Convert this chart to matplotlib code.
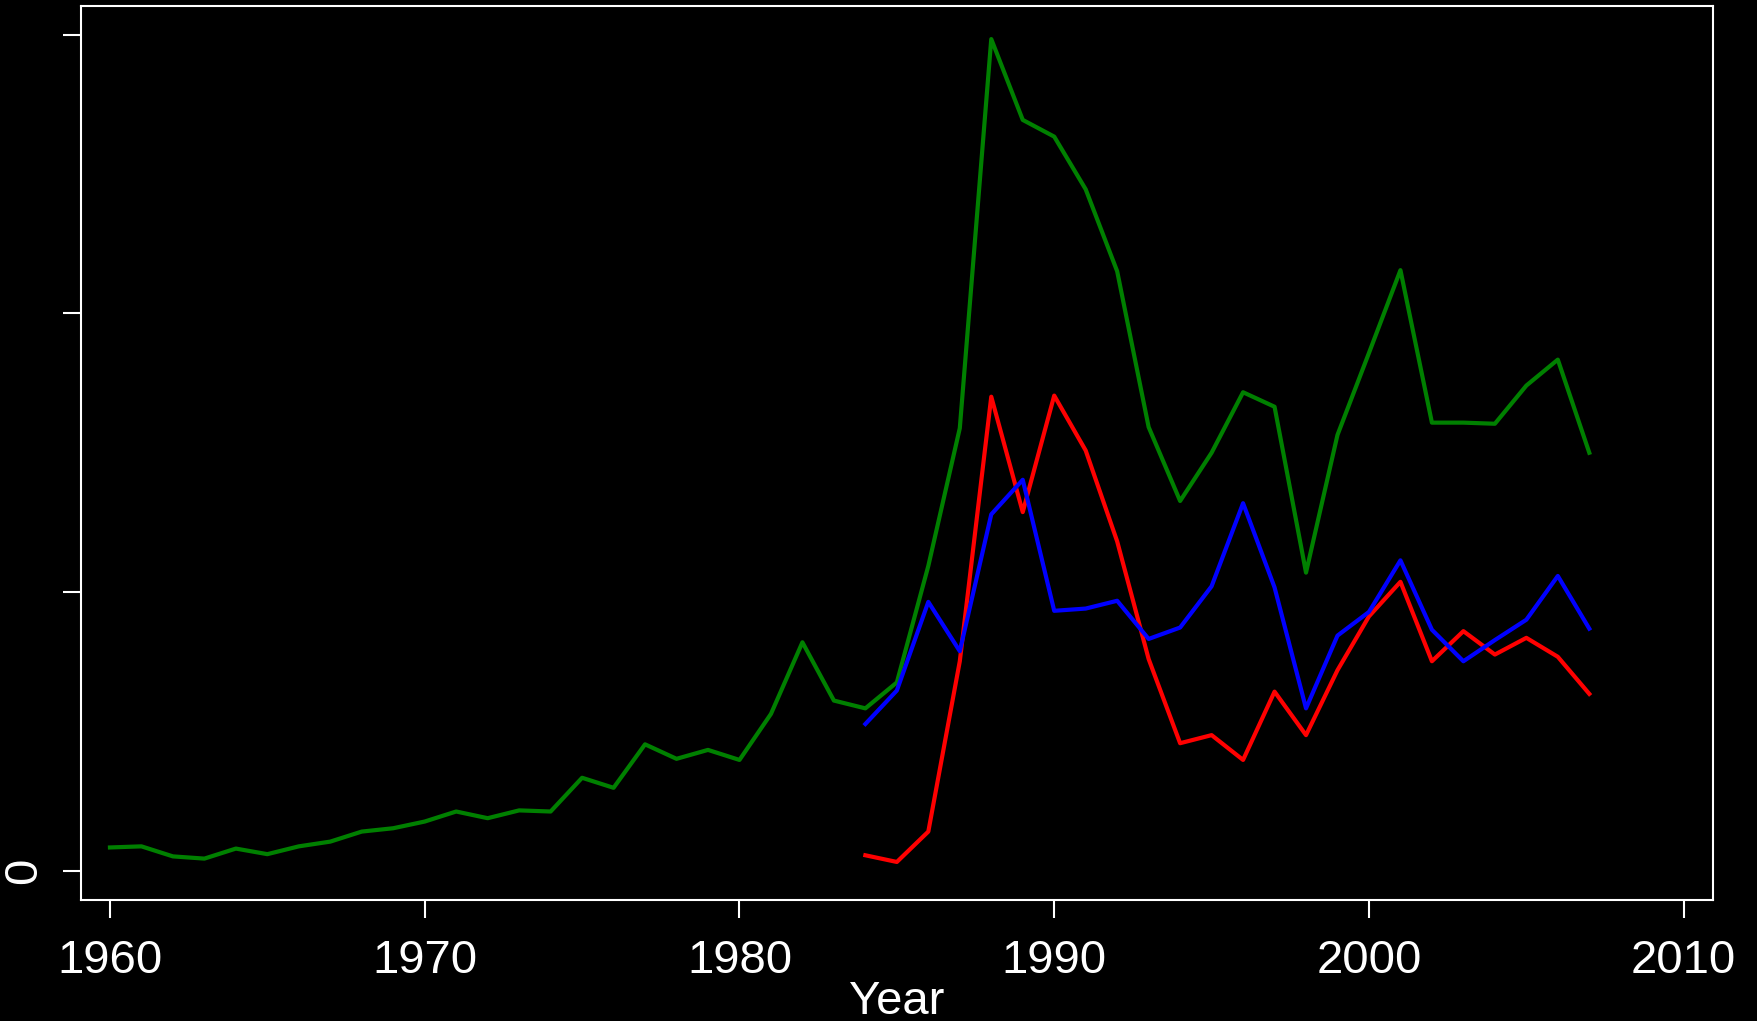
import matplotlib
matplotlib.use("Agg")
import matplotlib.pyplot as plt

# yearly series (units: one y tick step = 100)
years_green = list(range(1960, 2008))
green = [8.4, 8.8, 5.2, 4.4, 8.0, 6.0, 8.8, 10.5, 14.1, 15.3,
         17.7, 21.3, 18.9, 21.7, 21.3, 33.4, 29.8, 45.4, 40.2, 43.4,
         39.8, 56.3, 82.0, 61.1, 58.3, 67.6, 109.4, 158.8, 298.4, 269.4,
         263.4, 244.5, 215.1, 159.2, 132.7, 150.0, 171.7, 166.5, 107.0, 156.4,
         185.8, 215.5, 160.8, 160.8, 160.4, 174.1, 183.4, 150.0]

years_short = list(range(1984, 2008))
red = [5.6, 3.2, 14.1, 75.2, 170.1, 128.7, 170.5, 150.8, 118.2, 76.0,
       45.8, 48.7, 39.8, 64.3, 48.7, 72.0, 91.3, 103.7, 75.2, 86.0,
       77.6, 83.6, 76.8, 63.5]
blue = [52.7, 64.7, 96.5, 78.8, 127.9, 140.3, 93.3, 94.1, 96.9, 83.2,
        87.3, 102.1, 131.9, 101.7, 58.3, 84.4, 92.9, 111.4, 86.5, 75.2,
        82.8, 90.1, 105.8, 86.9]

x_ticks = [1960, 1970, 1980, 1990, 2000, 2010]
y_ticks = [0, 100, 200, 300]
y_tick_labels = ['0', '', '', '']

plt.rcParams['font.family'] = ['Liberation Sans', 'DejaVu Sans']

fig = plt.figure(figsize=(17.58, 10.21), dpi=100, facecolor='black')
ax = fig.add_axes([0.0459, 0.1185, 0.9285, 0.876], facecolor='black')

ax.plot(years_green, green, color='#008000', lw=3.0)
ax.plot(years_short, red, color='#ff0000', lw=3.0)
ax.plot(years_short, blue, color='#0000ff', lw=3.0)

ax.set_xlim(1959.07, 2010.93)
ax.set_ylim(-10.45, 310.4)

for side in ax.spines.values():
    side.set_color('white')
    side.set_linewidth(1.5)

ax.set_xticks(x_ticks)
ax.set_xticklabels([str(t) for t in x_ticks])
ax.set_yticks(y_ticks)
ax.set_yticklabels(y_tick_labels, rotation=90, va='center')
ax.tick_params(colors='white', labelcolor='white', labelsize=34,
               length=13, width=1.5)
ax.tick_params(axis='x', pad=15)
ax.tick_params(axis='y', pad=12)

ax.set_xlabel('Year', color='white', fontsize=34, labelpad=-2)

fig.savefig('out.png', dpi=100, facecolor='black')
